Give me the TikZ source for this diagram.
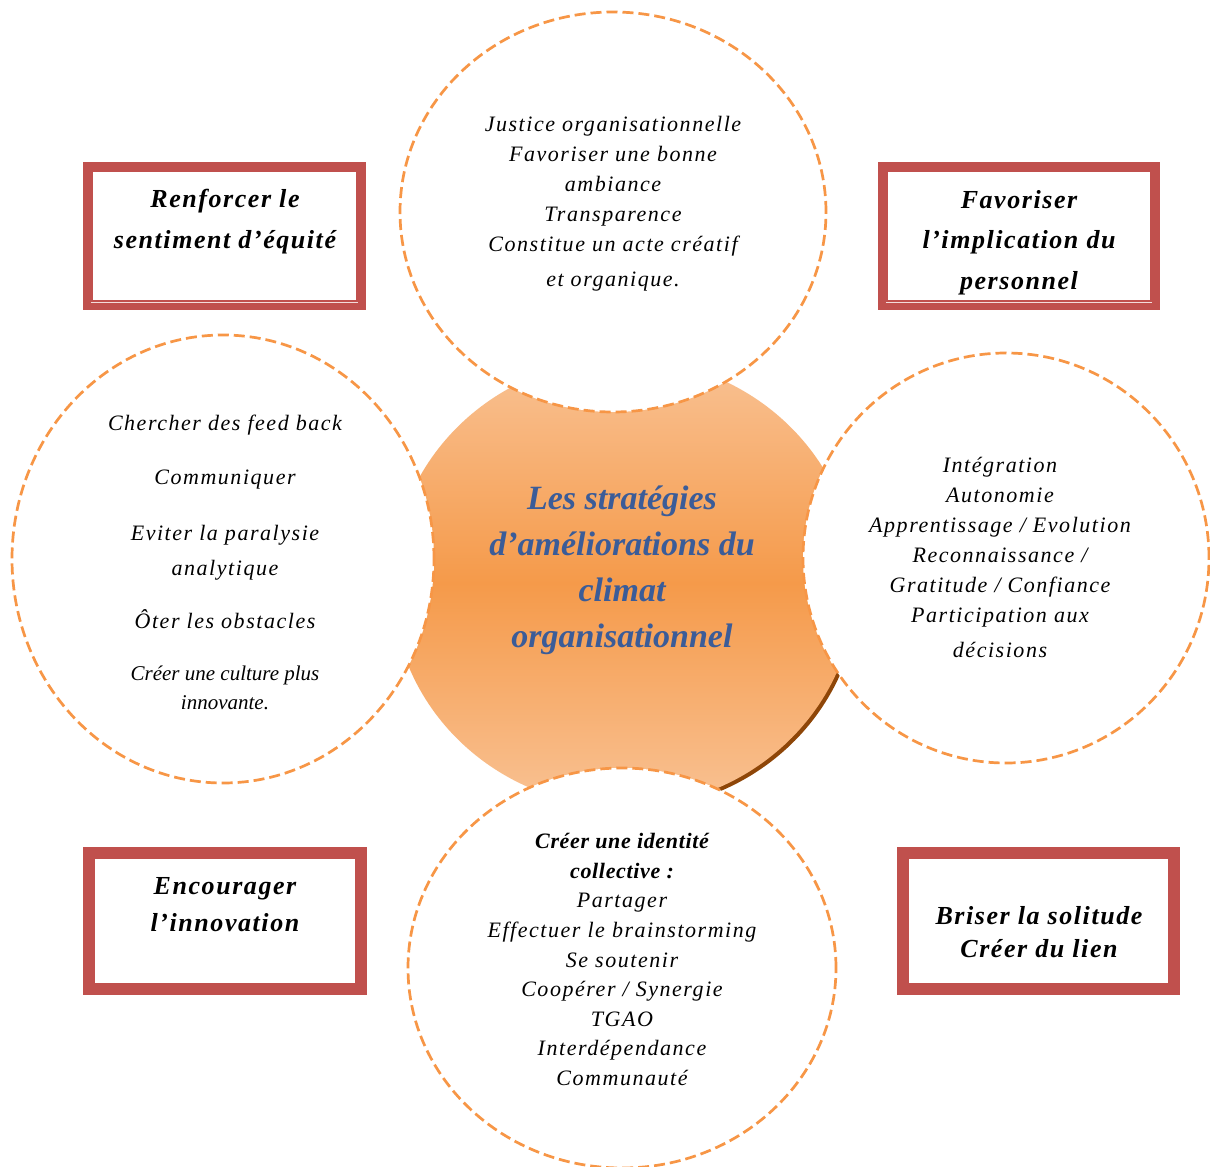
\documentclass[tikz,border=0pt]{standalone}
\usepackage{fontspec}
\setmainfont{Liberation Serif}
\newfontfamily\spacedfont[LetterSpace=7]{Liberation Serif}
\newfontfamily\titlefont[LetterSpace=6]{Liberation Serif}
\newfontfamily\plainfont{Liberation Serif}
\newfontfamily\boldspaced[LetterSpace=3]{Liberation Serif}
\usetikzlibrary{shapes.geometric}
\definecolor{dashorange}{HTML}{F79646}
\definecolor{boxred}{HTML}{C0504D}
\definecolor{lightorange}{HTML}{F9C294}
\definecolor{midorange}{HTML}{F59A4A}
\definecolor{shadowbrown}{HTML}{8E4608}
\definecolor{titleblue}{HTML}{3B5C98}
\begin{document}
\begin{tikzpicture}[x=1pt,y=-1pt,
  bubble/.style={ellipse, draw=dashorange, line width=2.7pt, dash pattern=on 11pt off 5pt, fill=white, inner sep=0pt},
  framefill/.style={rectangle, fill=white, inner sep=0pt},
  frameline/.style={draw=boxred},
  circtext/.style={align=center, font=\spacedfont\itshape\fontsize{22}{30}\selectfont},
  boxtext/.style={align=center, font=\titlefont\bfseries\itshape\fontsize{26}{41}\selectfont},
]
\path[use as bounding box, fill=white] (0,0) rectangle (1210,1167);

% central shape with shadow at the lower right
\begin{scope}
  \clip (700,640) rectangle (900,900);
  \node[ellipse, fill=shadowbrown, minimum width=464pt, minimum height=448pt, inner sep=0pt] (coreshadow) at (627,586) {};
\end{scope}
\node[ellipse, top color=lightorange, bottom color=lightorange, middle color=midorange, minimum width=464pt, minimum height=448pt, inner sep=0pt] (core) at (624,583) {};

% four bubbles
\node[bubble, minimum width=426pt, minimum height=400pt] (topc) at (613,212) {};
\node[bubble, minimum width=422pt, minimum height=448pt] (leftc) at (223,559) {};
\node[bubble, minimum width=406pt, minimum height=410pt] (rightc) at (1006,558) {};
\node[bubble, minimum width=428pt, minimum height=400pt] (botc) at (622,968) {};

% central text
\node[align=center, text=titleblue, font=\plainfont\bfseries\itshape\fontsize{34}{46}\selectfont] (coretext) at (622,570.5)
  {Les stratégies\\d’améliorations du\\climat\\organisationnel};

% bubble texts
\node[circtext] (toptext) at (613,203.5)
  {Justice organisationnelle\\Favoriser une bonne\\ambiance\\Transparence\\Constitue un acte créatif\\[5pt]et organique.};
\node[circtext, font=\spacedfont\itshape\fontsize{22}{35}\selectfont] (lefttext) at (225,522)
  {Chercher des feed back\\[19pt]Communiquer\\[21pt]Eviter la paralysie\\analytique\\[18pt]Ôter les obstacles};
\node[align=center, font=\plainfont\itshape\fontsize{21}{29}\selectfont] (lefttext2) at (225,687.5)
  {Créer une culture plus\\innovante.};
\node[circtext] (righttext) at (1000,557.5)
  {Intégration\\Autonomie\\Apprentissage / Evolution\\Reconnaissance /\\Gratitude / Confiance\\Participation aux\\[5pt]décisions};
\node[circtext, font=\spacedfont\itshape\fontsize{22}{29.6}\selectfont] (bottext) at (622,959.5)
  {{\boldspaced\bfseries Créer une identité}\\{\boldspaced\bfseries collective :}\\Partager\\Effectuer le brainstorming\\Se soutenir\\Coopérer / Synergie\\TGAO\\Interdépendance\\Communauté};

% framed boxes
\node[framefill, minimum width=273pt, minimum height=138pt] (boxa) at (224.5,236) {};
\node[framefill, minimum width=272pt, minimum height=138pt] (boxb) at (1019,236) {};
\node[framefill, minimum width=272pt, minimum height=136pt] (boxc) at (225,921) {};
\node[framefill, minimum width=271pt, minimum height=136pt] (boxd) at (1038.5,921) {};

\node[boxtext] (boxatext) at (225,221.5) {Renforcer le\\sentiment d’équité};
\node[boxtext, font=\titlefont\bfseries\itshape\fontsize{26}{40.5}\selectfont] (boxbtext) at (1019,242.5) {Favoriser\\l’implication du\\personnel};
\node[boxtext, font=\titlefont\bfseries\itshape\fontsize{26}{37}\selectfont] (boxctext) at (225,904.5) {Encourager\\l’innovation};
\node[boxtext, font=\titlefont\bfseries\itshape\fontsize{26}{33}\selectfont] (boxdtext) at (1039,932.5) {Briser la solitude\\Créer du lien};

\draw[frameline, line width=10pt] (boxa.north west) rectangle (boxa.south east);
\draw[frameline, line width=10pt] (boxb.north west) rectangle (boxb.south east);
\draw[frameline, line width=12pt] (boxc.north west) rectangle (boxc.south east);
\draw[frameline, line width=12pt] (boxd.north west) rectangle (boxd.south east);
\draw[white!80!boxred, line width=1.3pt] ([shift={(3pt,3pt)}]boxa.south west) -- ([shift={(-3pt,3pt)}]boxa.south east);
\draw[white!80!boxred, line width=1.3pt] ([shift={(3pt,3pt)}]boxb.south west) -- ([shift={(-3pt,3pt)}]boxb.south east);
\end{tikzpicture}
\end{document}
